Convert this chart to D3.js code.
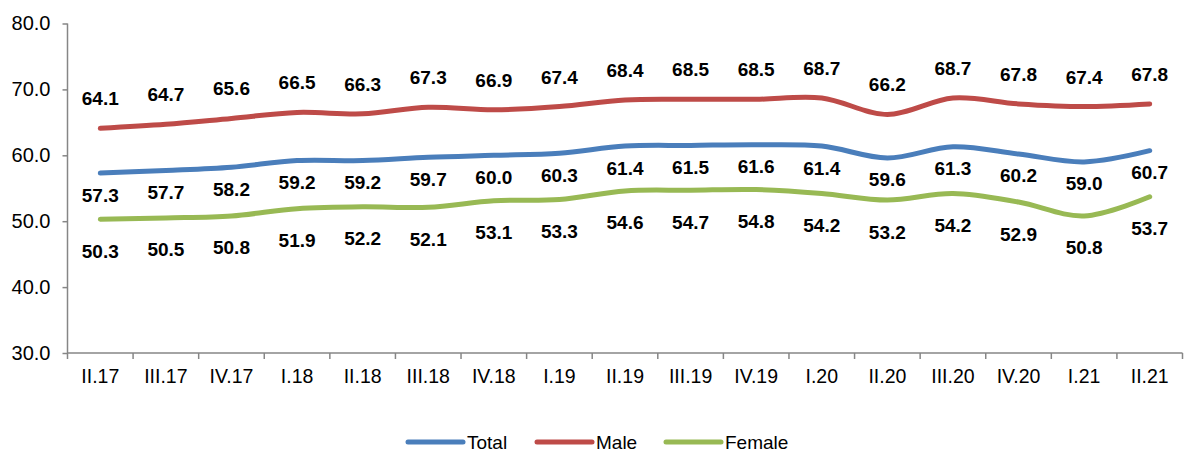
<!DOCTYPE html>
<html><head><meta charset="utf-8">
<script src="https://cdn.jsdelivr.net/npm/d3@7"></script>
<style>body{margin:0;background:#fff}svg{display:block;font-family:"Liberation Sans",Arial,sans-serif}</style>
</head><body><svg id="c" width="1184" height="451"></svg>
<script>
const categories=["II.17","III.17","IV.17","I.18","II.18","III.18","IV.18","I.19","II.19","III.19","IV.19","I.20","II.20","III.20","IV.20","I.21","II.21"];
const total=[57.3,57.7,58.2,59.2,59.2,59.7,60.0,60.3,61.4,61.5,61.6,61.4,59.6,61.3,60.2,59.0,60.7];
const male=[64.1,64.7,65.6,66.5,66.3,67.3,66.9,67.4,68.4,68.5,68.5,68.7,66.2,68.7,67.8,67.4,67.8];
const female=[50.3,50.5,50.8,51.9,52.2,52.1,53.1,53.3,54.6,54.7,54.8,54.2,53.2,54.2,52.9,50.8,53.7];
const yTicks=[30,40,50,60,70,80];
const seriesNames=["Total","Male","Female"];

(function(){
const series=[
 {name:seriesNames[0],values:total,color:"#4a7ebb",dy:22},
 {name:seriesNames[1],values:male,color:"#be4b48",dy:-29.5},
 {name:seriesNames[2],values:female,color:"#98b954",dy:32}
];
const svg=d3.select("#c");
const pL=67.5,pR=1182.5,pT=23.5,pB=353;
const x=d3.scaleBand().domain(categories).range([pL,pR]);
const y=d3.scaleLinear().domain([30,80]).range([pB,pT]);
const axisColor="#868686";

const ya=svg.append("g").attr("transform",`translate(${pL},0)`)
 .call(d3.axisLeft(y).tickValues(yTicks).tickFormat(d3.format(".1f")).tickSize(5).tickPadding(12));
ya.select(".domain").attr("stroke",axisColor).attr("stroke-width",1.5).attr("d",`M0,${pT}V${pB}`);
ya.selectAll(".tick line").attr("stroke",axisColor).attr("stroke-width",1.5);
ya.selectAll(".tick text").attr("font-size",20).attr("fill","#000").attr("font-family","Liberation Sans, Arial, sans-serif");

const xa=svg.append("g").attr("transform",`translate(0,${pB})`)
 .call(d3.axisBottom(x).tickSize(0).tickPadding(16));
xa.select(".domain").attr("stroke",axisColor).attr("stroke-width",1.5).attr("d",`M${pL},0H${pR}`);
xa.selectAll(".tick text").attr("font-size",19.5).attr("fill","#000").attr("font-family","Liberation Sans, Arial, sans-serif");
const bounds=categories.map(c=>x(c)).concat([x(categories[categories.length-1])+x.bandwidth()]);
xa.selectAll(".bt").data(bounds).enter().append("line")
 .attr("x1",d=>d).attr("x2",d=>d).attr("y1",0).attr("y2",6).attr("stroke",axisColor).attr("stroke-width",1.5);

const cx=c=>x(c)+x.bandwidth()/2;
const line=d3.line().x((d,i)=>cx(categories[i])).y(d=>y(d)).curve(d3.curveCatmullRom.alpha(0));

series.forEach(s=>{
 svg.append("path").attr("d",line(s.values)).attr("fill","none").attr("stroke",s.color)
  .attr("stroke-width",5).attr("stroke-linecap","round");
});
series.forEach(s=>{
 svg.append("g").selectAll("text").data(s.values).enter().append("text")
  .attr("x",(d,i)=>cx(categories[i])).attr("y",d=>y(d)+s.dy)
  .attr("text-anchor","middle").attr("dominant-baseline","central")
  .attr("font-size",19).attr("font-weight","bold").attr("fill","#000")
  .text(d=>d.toFixed(1));
});

const legX=[408,537,666];
const lg=svg.append("g");
series.forEach((s,i)=>{
 lg.append("line").attr("x1",legX[i]).attr("x2",legX[i]+55).attr("y1",442).attr("y2",442)
  .attr("stroke",s.color).attr("stroke-width",5).attr("stroke-linecap","round");
 lg.append("text").attr("x",legX[i]+59).attr("y",442).attr("dominant-baseline","central")
  .attr("font-size",19).attr("fill","#000").text(s.name);
});
})();
</script></body></html>
